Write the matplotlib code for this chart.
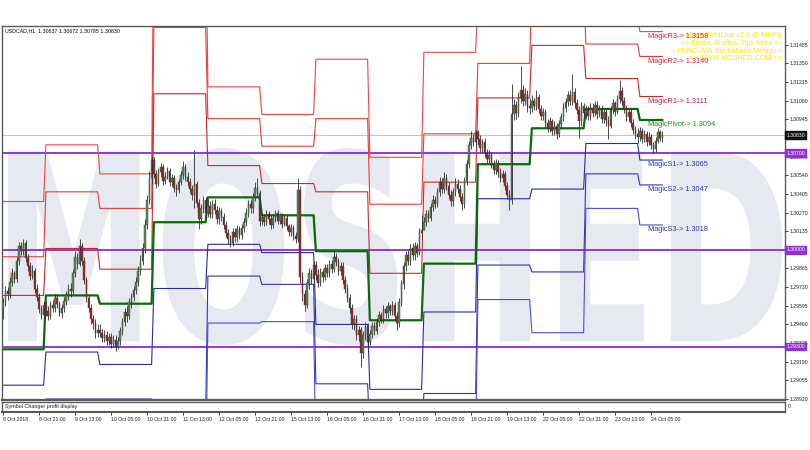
import matplotlib
matplotlib.use("Agg")
import matplotlib.pyplot as plt
import numpy as np
from matplotlib.textpath import TextPath
from matplotlib.patches import PathPatch
from matplotlib.font_manager import FontProperties
from matplotlib.transforms import Affine2D

plt.rcParams['font.family'] = ['Liberation Sans', 'DejaVu Sans']

# ---------------- data ----------------
first_open = 1.2958
closes = [
    # 8 Oct
    1.2962, 1.2970, 1.2968, 1.2977, 1.2983, 1.2979, 1.2992, 1.3003, 1.2999, 1.3005, 1.2994, 1.2988, 1.2981, 1.2985, 1.2972, 1.2966, 1.2957, 1.2953, 1.2960,
    # 9 Oct
    1.2956, 1.2952, 1.2960, 1.2958, 1.2965, 1.2961, 1.2954, 1.2958, 1.2963, 1.2967, 1.2972, 1.2970, 1.2983, 1.2995, 1.2990, 1.3003, 1.2992, 1.2978, 1.2965, 1.2958, 1.2950, 1.2947, 1.2940, 1.2942,
    # 10 Oct
    1.2940, 1.2936, 1.2938, 1.2934, 1.2937, 1.2932, 1.2935, 1.2930, 1.2934, 1.2941, 1.2948, 1.2955, 1.2952, 1.2962, 1.2966, 1.2971, 1.2977, 1.2985, 1.2992, 1.3001, 1.3018, 1.3036, 1.3052, 1.3065,
    # 11 Oct
    1.3055, 1.3048, 1.3056, 1.3060, 1.3050, 1.3053, 1.3057, 1.3049, 1.3052, 1.3045, 1.3043, 1.3049, 1.3054, 1.3060, 1.3053, 1.3049, 1.3044, 1.3040, 1.3048, 1.3034, 1.3022, 1.3030, 1.3036, 1.3027,
    # 12 Oct
    1.3032, 1.3026, 1.3033, 1.3029, 1.3022, 1.3028, 1.3024, 1.3018, 1.3012, 1.3008, 1.3005, 1.3013, 1.3009, 1.3015, 1.3011, 1.3016, 1.3020, 1.3027, 1.3033, 1.3030, 1.3038, 1.3045, 1.3041, 1.3021,
    # 15 Oct
    1.3024, 1.3020, 1.3026, 1.3022, 1.3018, 1.3023, 1.3027, 1.3021, 1.3025, 1.3019, 1.3023, 1.3017, 1.3013, 1.3016, 1.3010, 1.3008, 1.3043, 1.2980, 1.2968, 1.2960, 1.2976, 1.2983, 1.2979, 1.2989,
    # 16 Oct
    1.2982, 1.2976, 1.2984, 1.2980, 1.2987, 1.2983, 1.2990, 1.2986, 1.2995, 1.2991, 1.2985, 1.2988, 1.2978, 1.2972, 1.2965, 1.2958, 1.2946, 1.2950, 1.2938, 1.2942, 1.2925, 1.2938, 1.2944, 1.2933,
    # 17 Oct
    1.2939, 1.2945, 1.2941, 1.2948, 1.2953, 1.2950, 1.2957, 1.2954, 1.2959, 1.2956, 1.2960, 1.2952, 1.2947, 1.2962, 1.2975, 1.2988, 1.2996, 1.2992, 1.3001, 1.2996, 1.3003, 1.2998, 1.3012, 1.3014,
    # 18 Oct
    1.3020, 1.3026, 1.3023, 1.3031, 1.3036, 1.3033, 1.3042, 1.3049, 1.3044, 1.3052, 1.3046, 1.3040, 1.3035, 1.3042, 1.3048, 1.3044, 1.3038, 1.3033, 1.3050, 1.3062, 1.3076, 1.3081, 1.3078, 1.3085,
    # 19 Oct
    1.3080, 1.3074, 1.3078, 1.3070, 1.3066, 1.3069, 1.3062, 1.3058, 1.3063, 1.3056, 1.3052, 1.3055, 1.3046, 1.3040, 1.3036, 1.3098, 1.3105, 1.3099, 1.3110, 1.3116, 1.3108, 1.3113, 1.3104, 1.3103,
    # 22 Oct
    1.3108, 1.3104, 1.3111, 1.3102, 1.3097, 1.3100, 1.3092, 1.3088, 1.3093, 1.3086, 1.3090, 1.3084, 1.3091, 1.3096, 1.3103, 1.3107, 1.3112, 1.3108, 1.3114, 1.3106, 1.3101, 1.3093, 1.3104, 1.3099,
    # 23 Oct
    1.3101, 1.3097, 1.3103, 1.3099, 1.3105, 1.3098, 1.3102, 1.3095, 1.3100, 1.3094, 1.3090, 1.3101, 1.3106, 1.3100, 1.3109, 1.3115, 1.3108, 1.3102, 1.3096, 1.3100, 1.3092, 1.3087, 1.3084, 1.3082,
    # 24 Oct
    1.3086, 1.3080, 1.3084, 1.3078, 1.3082, 1.3076, 1.3073, 1.3079, 1.3085, 1.3081, 1.3083,
]
highs = [
    1.2965, 1.2974, 1.2973, 1.2980, 1.2987, 1.2985, 1.2995, 1.3006, 1.3006, 1.3008, 1.3007, 1.2997, 1.2991, 1.2989, 1.2987, 1.2975, 1.2969, 1.2960, 1.2963,
    1.2963, 1.2959, 1.2963, 1.2964, 1.2968, 1.2968, 1.2963, 1.2961, 1.2966, 1.2970, 1.2975, 1.2976, 1.2986, 1.2999, 1.2998, 1.3008, 1.3005, 1.2995, 1.2980, 1.2968, 1.2961, 1.2953, 1.2950, 1.2946,
    1.2946, 1.2943, 1.2942, 1.2941, 1.2940, 1.2940, 1.2938, 1.2938, 1.2937, 1.2944, 1.2951, 1.2958, 1.2959, 1.2965, 1.2969, 1.2974, 1.2980, 1.2988, 1.2996, 1.3005, 1.3022, 1.3040, 1.3057, 1.3068,
    1.3067, 1.3058, 1.3059, 1.3063, 1.3062, 1.3056, 1.3060, 1.3059, 1.3055, 1.3054, 1.3048, 1.3051, 1.3057, 1.3064, 1.3062, 1.3056, 1.3052, 1.3047, 1.3072, 1.3050, 1.3037, 1.3033, 1.3039, 1.3038,
    1.3036, 1.3035, 1.3036, 1.3037, 1.3032, 1.3031, 1.3030, 1.3027, 1.3021, 1.3015, 1.3011, 1.3016, 1.3016, 1.3018, 1.3017, 1.3019, 1.3023, 1.3030, 1.3036, 1.3036, 1.3041, 1.3049, 1.3052, 1.3043,
    1.3027, 1.3026, 1.3029, 1.3028, 1.3025, 1.3025, 1.3029, 1.3029, 1.3027, 1.3027, 1.3025, 1.3025, 1.3019, 1.3019, 1.3018, 1.3013, 1.3052, 1.3046, 1.2984, 1.2971, 1.2979, 1.2987, 1.2986, 1.2992,
    1.2992, 1.2986, 1.2987, 1.2986, 1.2990, 1.2990, 1.2993, 1.2993, 1.2999, 1.2998, 1.2994, 1.2991, 1.2991, 1.2981, 1.2975, 1.2968, 1.2961, 1.2953, 1.2953, 1.2945, 1.2944, 1.2941, 1.2948, 1.2947,
    1.2942, 1.2948, 1.2948, 1.2951, 1.2956, 1.2955, 1.2960, 1.2959, 1.2962, 1.2961, 1.2963, 1.2962, 1.2955, 1.2965, 1.2978, 1.2991, 1.2999, 1.3000, 1.3004, 1.3005, 1.3006, 1.3005, 1.3016, 1.3025,
    1.3024, 1.3029, 1.3029, 1.3034, 1.3040, 1.3039, 1.3045, 1.3053, 1.3052, 1.3056, 1.3055, 1.3049, 1.3043, 1.3045, 1.3052, 1.3051, 1.3047, 1.3041, 1.3053, 1.3066, 1.3079, 1.3086, 1.3084, 1.3087,
    1.3087, 1.3083, 1.3080, 1.3081, 1.3073, 1.3072, 1.3071, 1.3065, 1.3066, 1.3065, 1.3059, 1.3058, 1.3057, 1.3049, 1.3043, 1.3120, 1.3109, 1.3108, 1.3114, 1.3133, 1.3119, 1.3117, 1.3116, 1.3110,
    1.3112, 1.3110, 1.3116, 1.3113, 1.3105, 1.3103, 1.3102, 1.3095, 1.3096, 1.3095, 1.3093, 1.3092, 1.3094, 1.3099, 1.3106, 1.3110, 1.3115, 1.3116, 1.3127, 1.3117, 1.3109, 1.3104, 1.3107, 1.3106,
    1.3105, 1.3104, 1.3106, 1.3106, 1.3108, 1.3108, 1.3105, 1.3105, 1.3103, 1.3102, 1.3097, 1.3104, 1.3109, 1.3108, 1.3112, 1.3123, 1.3118, 1.3111, 1.3105, 1.3103, 1.3103, 1.3095, 1.3090, 1.3088,
    1.3089, 1.3088, 1.3087, 1.3086, 1.3085, 1.3084, 1.3078, 1.3082, 1.3088, 1.3087, 1.3086,
]
lows = [
    1.2950, 1.2959, 1.2964, 1.2965, 1.2974, 1.2976, 1.2977, 1.2989, 1.2996, 1.2996, 1.2991, 1.2985, 1.2978, 1.2979, 1.2969, 1.2963, 1.2954, 1.2950, 1.2951,
    1.2952, 1.2949, 1.2950, 1.2955, 1.2955, 1.2958, 1.2952, 1.2951, 1.2955, 1.2960, 1.2964, 1.2966, 1.2968, 1.2980, 1.2986, 1.2988, 1.2989, 1.2975, 1.2962, 1.2955, 1.2946, 1.2943, 1.2936, 1.2937,
    1.2937, 1.2933, 1.2933, 1.2931, 1.2931, 1.2929, 1.2930, 1.2927, 1.2928, 1.2931, 1.2938, 1.2945, 1.2948, 1.2950, 1.2958, 1.2963, 1.2968, 1.2974, 1.2982, 1.2989, 1.2998, 1.3015, 1.3033, 1.3048,
    1.3052, 1.3045, 1.3046, 1.3053, 1.3047, 1.3048, 1.3051, 1.3046, 1.3046, 1.3042, 1.3039, 1.3041, 1.3047, 1.3051, 1.3050, 1.3046, 1.3041, 1.3036, 1.3030, 1.3031, 1.3015, 1.3019, 1.3027, 1.3024,
    1.3024, 1.3023, 1.3023, 1.3026, 1.3019, 1.3019, 1.3021, 1.3015, 1.3009, 1.3004, 1.3002, 1.3003, 1.3006, 1.3006, 1.3008, 1.3008, 1.3013, 1.3017, 1.3024, 1.3027, 1.3027, 1.3035, 1.3038, 1.3017,
    1.3018, 1.3017, 1.3018, 1.3019, 1.3015, 1.3016, 1.3020, 1.3019, 1.3019, 1.3016, 1.3017, 1.3014, 1.3010, 1.3010, 1.3007, 1.3005, 1.3006, 1.2976, 1.2963, 1.2956, 1.2958, 1.2972, 1.2975, 1.2977,
    1.2978, 1.2973, 1.2974, 1.2977, 1.2978, 1.2980, 1.2980, 1.2983, 1.2984, 1.2988, 1.2982, 1.2982, 1.2975, 1.2969, 1.2962, 1.2954, 1.2943, 1.2942, 1.2935, 1.2934, 1.2915, 1.2922, 1.2935, 1.2930,
    1.2931, 1.2936, 1.2938, 1.2939, 1.2945, 1.2947, 1.2947, 1.2951, 1.2951, 1.2953, 1.2953, 1.2949, 1.2942, 1.2944, 1.2959, 1.2972, 1.2985, 1.2989, 1.2989, 1.2993, 1.2993, 1.2995, 1.2996, 1.3008,
    1.3014, 1.3017, 1.3020, 1.3021, 1.3028, 1.3030, 1.3031, 1.3039, 1.3041, 1.3041, 1.3043, 1.3037, 1.3032, 1.3032, 1.3039, 1.3041, 1.3035, 1.3029, 1.3030, 1.3047, 1.3059, 1.3073, 1.3075, 1.3075,
    1.3076, 1.3071, 1.3071, 1.3067, 1.3063, 1.3063, 1.3059, 1.3055, 1.3055, 1.3053, 1.3049, 1.3049, 1.3043, 1.3037, 1.3029, 1.3033, 1.3094, 1.3095, 1.3096, 1.3106, 1.3104, 1.3105, 1.3100, 1.3098,
    1.3100, 1.3101, 1.3101, 1.3099, 1.3094, 1.3094, 1.3089, 1.3085, 1.3085, 1.3083, 1.3083, 1.3080, 1.3082, 1.3088, 1.3093, 1.3100, 1.3104, 1.3105, 1.3105, 1.3103, 1.3098, 1.3081, 1.3090, 1.3096,
    1.3095, 1.3094, 1.3094, 1.3096, 1.3097, 1.3095, 1.3096, 1.3092, 1.3092, 1.3090, 1.3080, 1.3088, 1.3098, 1.3097, 1.3098, 1.3106, 1.3105, 1.3099, 1.3093, 1.3093, 1.3089, 1.3084, 1.3080, 1.3077,
    1.3079, 1.3077, 1.3078, 1.3075, 1.3076, 1.3073, 1.3070, 1.3071, 1.3077, 1.3079, 1.3078,
]

# first bar of each trading day (bar index)
day_starts = [0, 19, 43, 67, 91, 115, 139, 163, 187, 211, 235, 259, 283]
# daily pivot levels
piv_P  = [1.2928, 1.2967, 1.2961, 1.3020, 1.3038, 1.3025, 1.2999, 1.2949, 1.2990, 1.3062, 1.3088, 1.3102, 1.3094]
piv_R1 = [1.2967, 1.3001, 1.2986, 1.3113, 1.3061, 1.3048, 1.3042, 1.2983, 1.3049, 1.3110, 1.3148, 1.3124, 1.3111]
piv_R2 = [1.2995, 1.3042, 1.3030, 1.3161, 1.3095, 1.3075, 1.3095, 1.3033, 1.3084, 1.3135, 1.3192, 1.3149, 1.3140]
piv_R3 = [1.3035, 1.3076, 1.3055, 1.3254, 1.3118, 1.3098, 1.3138, 1.3067, 1.3143, 1.3183, 1.3252, 1.3171, 1.3158]
piv_S1 = [1.2902, 1.2926, 1.2917, 1.2972, 1.3004, 1.2998, 1.2946, 1.2899, 1.2955, 1.3037, 1.3044, 1.3077, 1.3065]
piv_S2 = [1.2860, 1.2892, 1.2892, 1.2879, 1.2981, 1.2975, 1.2903, 1.2865, 1.2896, 1.2989, 1.2984, 1.3055, 1.3047]
piv_S3 = [1.2836, 1.2851, 1.2848, 1.2831, 1.2947, 1.2948, 1.2850, 1.2815, 1.2861, 1.2964, 1.2940, 1.3030, 1.3018]

hlines = [1.30700, 1.30000, 1.29300]
bid = 1.30830

x_tick_bars = [0, 16, 32, 48, 64, 80, 96, 112, 128, 144, 160, 176, 192, 208, 224, 240, 256, 272, 288]
x_tick_labels = ['8 Oct 2018', '8 Oct 21:00', '9 Oct 13:00', '10 Oct 05:00', '10 Oct 21:00',
                 '11 Oct 13:00', '12 Oct 05:00', '12 Oct 21:00', '15 Oct 13:00', '16 Oct 05:00',
                 '16 Oct 21:00', '17 Oct 13:00', '18 Oct 05:00', '18 Oct 21:00', '19 Oct 13:00',
                 '22 Oct 05:00', '22 Oct 21:00', '23 Oct 13:00', '24 Oct 05:00']
y_tick_values = [1.28920 + 0.00135 * k for k in range(20)]

assert len(closes) == len(highs) == len(lows) == 294

# ---------------- figure ----------------
W, H = 810, 450
fig = plt.figure(figsize=(8.1, 4.5), dpi=100)
fig.patch.set_facecolor('white')

def fx(px):
    return px / W

def fy(py):
    return 1 - py / H

ax = fig.add_axes([fx(2), fy(400), fx(785) - fx(2), fy(26) - fy(400)])
sub = fig.add_axes([fx(2), fy(412), fx(785) - fx(2), fy(401.5) - fy(412)])

XL = (-0.5, 347.5)
YL = (1.289128, 1.316206)
ax.set_xlim(*XL)
ax.set_ylim(*YL)

SMALL = 3.7   # axis / status font size

# watermark
tp = TextPath((0, 0), "MOSHED", size=100,
              prop=FontProperties(family='DejaVu Sans', weight='bold'))
bb = tp.get_extents()
sx = (fx(782) - fx(8)) / bb.width
sy = (fy(148) - fy(345)) / bb.height
tr = Affine2D().translate(-bb.x0, -bb.y0).scale(sx, sy).translate(fx(8), fy(345)) + fig.transFigure
wm = PathPatch(tp, transform=tr, facecolor='#E6E9F0', edgecolor='none', zorder=0.2)
ax.add_artist(wm)

n = len(closes)
xb = np.arange(n)
c = np.array(closes)
o = np.array([first_open] + closes[:-1])
h = np.maximum(np.array(highs), np.maximum(o, c))
l = np.minimum(np.array(lows), np.minimum(o, c))

day_idx = np.searchsorted(day_starts, xb, side='right') - 1

# horizontal level lines
for v in hlines:
    ax.axhline(v, color='#8A2BD8', lw=1.3, zorder=1.5)
ax.axhline(bid, color='#C4C4C4', lw=0.8, zorder=1.4)

# pivot lines
levels = [
    (piv_R3, '#F04545', 0.8), (piv_R2, '#EE3A3A', 0.8), (piv_R1, '#D02828', 0.8),
    (piv_S1, '#2A2AA8', 0.8), (piv_S2, '#3434B4', 0.8), (piv_S3, '#4C4CDC', 0.8),
]
for arr, col, lw in levels:
    ax.plot(xb, np.array(arr)[day_idx], color=col, lw=lw, zorder=2)
ax.plot(xb, np.array(piv_P)[day_idx], color='#0B6A0B', lw=1.6, zorder=2.1)

# candles
ax.vlines(xb, l, h, color='#2E2E2E', lw=0.6, zorder=3)
up = c >= o
body_b = np.minimum(o, c)
body_h = np.maximum(np.abs(c - o), 0.00004)
ax.bar(xb[up], body_h[up], bottom=body_b[up], width=0.72, color='#5A8F5A',
       edgecolor='#303030', linewidth=0.3, zorder=3.1)
ax.bar(xb[~up], body_h[~up], bottom=body_b[~up], width=0.72, color='#A82828',
       edgecolor='#303030', linewidth=0.3, zorder=3.1)

# labels for current-day pivots
last = len(day_starts) - 1
lab_x = 286.6
lab_items = [
    ('MagicR3-> %.4f' % piv_R3[last], piv_R3[last], '#D81E3C'),
    ('MagicR2-> %.4f' % piv_R2[last], piv_R2[last], '#D81E3C'),
    ('MagicR1-> %.4f' % piv_R1[last], piv_R1[last], '#C0203A'),
    ('MagicPivot-> %.4f' % piv_P[last], piv_P[last], '#1F8A1F'),
    ('MagicS1-> %.4f' % piv_S1[last], piv_S1[last], '#2E3AA8'),
    ('MagicS2-> %.4f' % piv_S2[last], piv_S2[last], '#2E3AA8'),
    ('MagicS3-> %.4f' % piv_S3[last], piv_S3[last], '#2E3AA8'),
]
for txt, val, col in lab_items:
    ax.annotate(txt, (lab_x, val), xytext=(0, -3.4), textcoords='offset points',
                fontsize=5.3, color=col, va='center', ha='left', zorder=5)

# yellow promo text
promo = ["MagicPivotLine v2.0 @ MKP))", ">> Berita, Analisa, Tips forex <<",
         "= PERCUMA dim bahasa Melayu =", "=> WWW.MOSHED.COM <="]
for t, py in zip(promo, [35.5, 43.5, 51.5, 59.0]):
    ax.text((782 - 2) / 783, (400 - py) / 374, t, transform=ax.transAxes,
            ha='right', va='center', fontsize=5.1, color='#FFE51A', zorder=4.5)

# title
ax.text(0.004, 0.994, "USDCAD,H1  1.30637 1.30672 1.30785 1.30830", transform=ax.transAxes,
        ha='left', va='top', fontsize=3.8, color='black', zorder=6)

# axes styling (labels hidden under the price boxes are left blank)
hidden = [abs(v - hv) < 0.0003 for v in y_tick_values for hv in [1.30000, bid]]
ylabels = []
for v in y_tick_values:
    if abs(v - 1.30000) < 0.0001 or abs(v - bid) < 0.0003:
        ylabels.append('')
    else:
        ylabels.append('%.5f' % v)
ax.set_xticks([])
ax.yaxis.tick_right()
ax.set_yticks(y_tick_values)
ax.set_yticklabels(ylabels)
ax.tick_params(axis='y', which='both', direction='out', length=2.0, width=0.6,
               pad=1.0, labelsize=SMALL, colors='#202020')
for s in ax.spines.values():
    s.set_color('#5A5A5A')
    s.set_linewidth(1.0)
ax.spines['bottom'].set_linewidth(1.6)

# price boxes on the axis
for v in hlines:
    ax.text(1.0015, v, '%.5f' % v, transform=ax.get_yaxis_transform(), ha='left', va='center',
            fontsize=SMALL, color='white', zorder=7, clip_on=False,
            bbox=dict(boxstyle='square,pad=0.25', fc='#9430D0', ec='#9430D0'))
ax.text(1.0015, bid, '%.5f' % bid, transform=ax.get_yaxis_transform(), ha='left', va='center',
        fontsize=SMALL, color='white', zorder=7, clip_on=False,
        bbox=dict(boxstyle='square,pad=0.25', fc='#101010', ec='#101010'))

# sub window
sub.set_xlim(*XL)
sub.set_ylim(0, 1)
sub.set_yticks([])
sub.set_xticks(x_tick_bars)
sub.set_xticklabels(x_tick_labels, ha='left')
sub.tick_params(axis='x', direction='out', length=2.0, width=0.6, pad=1.5,
                labelsize=SMALL, colors='#202020')
for s in sub.spines.values():
    s.set_color('#5A5A5A')
    s.set_linewidth(1.0)
sub.spines['bottom'].set_linewidth(1.5)
sub.text(0.004, 0.5, 'Symbol Changer profit display', transform=sub.transAxes,
         ha='left', va='center', fontsize=3.9, color='#202020')
sub.text(1.003, 0.5, '0', transform=sub.transAxes, ha='left', va='center',
         fontsize=3.6, color='#202020', clip_on=False)

fig.savefig('out.png', dpi=100, facecolor='white')
